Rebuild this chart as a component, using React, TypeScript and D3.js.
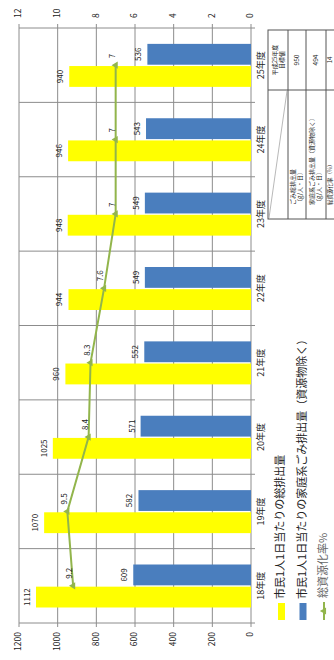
import React from 'react';
import * as d3 from 'd3';

// Fiscal years on the category axis
const categories = ['18年度', '19年度', '20年度', '21年度', '22年度', '23年度', '24年度', '25年度'];
// g per person per day
const totalPerPerson = [1112, 1070, 1025, 960, 944, 948, 946, 940];
const householdPerPerson = [609, 582, 571, 552, 549, 549, 543, 536];
// percent
const recyclingRate = [9.2, 9.5, 8.4, 8.3, 7.6, 7, 7, 7];

const leftTicks = [0, 200, 400, 600, 800, 1000, 1200];
const rightTicks = [0, 2, 4, 6, 8, 10, 12];

const seriesNames = [
  '市民1人1日当たりの総排出量',
  '市民1人1日当たりの家庭系ごみ排出量（資源物除く）',
  '総資源化率%',
];

const tableHeader = ['平成25年度', '目標値'];
const tableRowLabels = [
  ['ごみ総排出量', '（g/人・日）'],
  ['家庭系ごみ排出量（資源物除く）', '（g/人・日）'],
  ['総資源化率（%）'],
];
const tableTargets = ['950', '494', '14'];

const YELLOW = '#FFFF00';
const BLUE = '#4A7EBE';
const GREEN = '#92B54C';
const GRID = '#8C8C8C';
const FONT = '"Noto Sans CJK JP", "Noto Sans", sans-serif';

// The chart is laid out landscape (660 x 334) and turned a quarter turn
// counter-clockwise onto the portrait page.
const W = 660;

export default function App() {
  const x0 = d3.scaleBand<string>().domain(categories).range([37, 632]);
  const x1 = d3
    .scaleBand<string>()
    .domain(['total', 'household'])
    .range([15.5, 58.5])
    .paddingInner(0.06);
  const yL = d3.scaleLinear().domain([0, 1200]).range([251, 19]);
  const yR = d3.scaleLinear().domain([0, 12]).range([251, 19]);
  const cx = (i: number) => (x0(categories[i]) as number) + x0.bandwidth() / 2;

  const linePath = d3
    .line<number>()
    .x((_, i) => cx(i))
    .y((d) => yR(d))(recyclingRate) as string;
  const tri = d3.symbol(d3.symbolTriangle, 22)() as string;

  const boundaries = [...categories.map((c) => x0(c) as number), 632];

  // table geometry
  const tLeft = 441;
  const tSplit = 570;
  const tRight = 630;
  const rowEdges = [268, 288, 306, 326, 345];
  const rowFont = [6, 6, 5.5];
  const rowCenter = [297, 316, 330.5];

  return (
    <svg
      width={334}
      height={660}
      style={{ position: 'absolute', left: 0, top: 0, background: '#fff' }}
      fontFamily={FONT}
    >
      <rect width={334} height={660} fill="#fff" />
      <g transform={`translate(0,${W}) rotate(-90)`}>
        {/* value gridlines */}
        {leftTicks.map((t) => (
          <line key={'g' + t} x1={33} x2={632} y1={yL(t)} y2={yL(t)} stroke={GRID} strokeWidth={1} />
        ))}
        {rightTicks.map((t) => (
          <line key={'r' + t} x1={632} x2={636} y1={yR(t)} y2={yR(t)} stroke={GRID} strokeWidth={1} />
        ))}
        {/* category boundaries */}
        {boundaries.map((b, i) => (
          <line key={'b' + i} x1={b} x2={b} y1={19} y2={255} stroke={GRID} strokeWidth={1} />
        ))}

        {/* bars */}
        {categories.map((c, i) => {
          const bx = x0(c) as number;
          const ty = yL(totalPerPerson[i]);
          const hy = yL(householdPerPerson[i]);
          const tx = bx + (x1('total') as number);
          const hx = bx + (x1('household') as number);
          return (
            <g key={c}>
              <rect x={tx} y={ty} width={x1.bandwidth()} height={yL(0) - ty} fill={YELLOW} />
              <rect x={hx} y={hy} width={x1.bandwidth()} height={yL(0) - hy} fill={BLUE} />
              <text
                x={tx + x1.bandwidth() / 2}
                y={ty - 6}
                fontSize={8}
                textAnchor="middle"
                fill="#222"
              >
                {totalPerPerson[i]}
              </text>
              <text
                x={hx + x1.bandwidth() / 2}
                y={hy - 6}
                fontSize={8}
                textAnchor="middle"
                fill="#222"
              >
                {householdPerPerson[i]}
              </text>
            </g>
          );
        })}

        {/* recycling rate line */}
        <path d={linePath} fill="none" stroke={GREEN} strokeWidth={2} />
        {recyclingRate.map((v, i) => (
          <g key={'p' + i}>
            <path d={tri} transform={`translate(${cx(i)},${yR(v)})`} fill={GREEN} />
            <text x={cx(i) + 7} y={yR(v) - 3} fontSize={8} fill="#222" dominantBaseline="middle">
              {v}
            </text>
          </g>
        ))}

        {/* left axis labels */}
        {leftTicks.map((t) => (
          <text
            key={'lt' + t}
            x={28}
            y={yL(t)}
            fontSize={8.5}
            textAnchor="end"
            dominantBaseline="middle"
            fill="#222"
          >
            {t}
          </text>
        ))}
        {/* right axis labels */}
        {rightTicks.map((t) => (
          <text
            key={'rt' + t}
            x={642}
            y={yR(t)}
            fontSize={8.5}
            dominantBaseline="middle"
            fill="#222"
          >
            {t}
          </text>
        ))}
        {/* category labels */}
        {categories.map((c, i) => (
          <text
            key={'c' + c}
            x={cx(i)}
            y={262}
            fontSize={9}
            textAnchor="middle"
            dominantBaseline="middle"
            fill="#222"
          >
            {c}
          </text>
        ))}

        {/* legend */}
        <rect x={40} y={278} width={17} height={7} fill={YELLOW} />
        <text x={61} y={281.5} fontSize={11} dominantBaseline="middle" fill="#222">
          {seriesNames[0]}
        </text>
        <rect x={40} y={299.5} width={17} height={7} fill={BLUE} />
        <text x={61} y={303} fontSize={11} dominantBaseline="middle" fill="#222">
          {seriesNames[1]}
        </text>
        <line x1={40} x2={58} y1={324} y2={324} stroke={GREEN} strokeWidth={2} />
        <path d={tri} transform="translate(49,324)" fill={GREEN} />
        <text x={62} y={324} fontSize={11} dominantBaseline="middle" fill="#666">
          {seriesNames[2]}
        </text>

        {/* target table */}
        <rect x={tLeft} y={rowEdges[0]} width={tRight - tLeft} height={rowEdges[4] - rowEdges[0]} fill="#fff" stroke="#555" strokeWidth={1} />
        {rowEdges.slice(1, 4).map((r) => (
          <line key={'tr' + r} x1={tLeft} x2={tRight} y1={r} y2={r} stroke="#555" strokeWidth={1} />
        ))}
        <line x1={tSplit} x2={tSplit} y1={rowEdges[0]} y2={rowEdges[4]} stroke="#555" strokeWidth={1} />
        <line x1={tLeft + 1} y1={rowEdges[0] + 1} x2={tSplit - 1} y2={rowEdges[1] - 1} stroke="#999" strokeWidth={0.7} />
        {tableHeader.map((h, k) => (
          <text
            key={'th' + k}
            x={(tSplit + tRight) / 2}
            y={rowEdges[0] + 7 + k * 7}
            fontSize={6}
            textAnchor="middle"
            dominantBaseline="middle"
            fill="#222"
          >
            {h}
          </text>
        ))}
        {tableRowLabels.map((lines, r) => {
          const c = rowCenter[r];
          const fs = rowFont[r];
          return (
            <g key={'row' + r}>
              {lines.map((ln, k) => (
                <text
                  key={k}
                  x={tLeft + 14}
                  y={c + (k - (lines.length - 1) / 2) * 7}
                  fontSize={fs}
                  dominantBaseline="middle"
                  fill="#222"
                >
                  {ln}
                </text>
              ))}
              <text
                x={(tSplit + tRight) / 2}
                y={c}
                fontSize={fs + 0.5}
                textAnchor="middle"
                dominantBaseline="middle"
                fill="#222"
              >
                {tableTargets[r]}
              </text>
            </g>
          );
        })}
      </g>
    </svg>
  );
}
